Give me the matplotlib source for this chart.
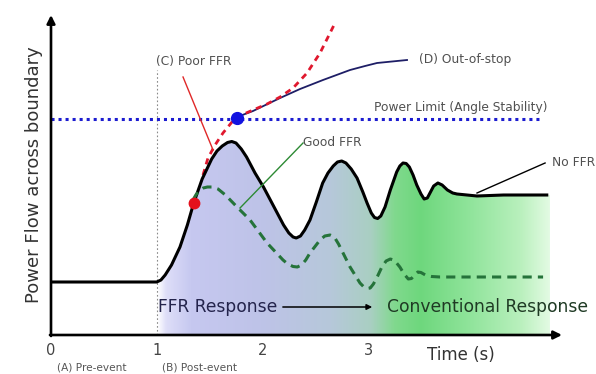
import matplotlib

matplotlib.use("Agg")
import matplotlib.pyplot as plt
import numpy as np
from matplotlib.colors import LinearSegmentedColormap
from matplotlib.patches import Polygon

# time in seconds, power in arbitrary units
no_ffr_t = [0.00, 1.00, 1.04, 1.08, 1.14, 1.22, 1.29, 1.35, 1.43, 1.52, 1.57, 1.62,
            1.67, 1.71, 1.75, 1.80, 1.85, 1.93, 2.01, 2.14, 2.20, 2.25, 2.29, 2.32,
            2.36, 2.40, 2.45, 2.51, 2.57, 2.62, 2.67, 2.71, 2.75, 2.79, 2.84, 2.895,
            2.95, 2.99, 3.03, 3.06, 3.09, 3.12, 3.16, 3.21, 3.27, 3.30, 3.33, 3.36,
            3.39, 3.425, 3.46, 3.50, 3.53, 3.56, 3.59, 3.62, 3.66, 3.70, 3.75, 3.80,
            3.84, 4.03, 4.28, 4.69]
no_ffr_p = [0.53, 0.53, 0.55, 0.60, 0.70, 0.88, 1.10, 1.32, 1.56, 1.76, 1.84, 1.89,
            1.925, 1.935, 1.92, 1.86, 1.78, 1.62, 1.48, 1.22, 1.10, 1.02, 0.98, 0.97,
            0.99, 1.05, 1.15, 1.33, 1.52, 1.62, 1.69, 1.73, 1.74, 1.72, 1.66, 1.57,
            1.43, 1.32, 1.22, 1.175, 1.165, 1.19, 1.28, 1.45, 1.63, 1.69, 1.72, 1.715,
            1.68, 1.60, 1.50, 1.41, 1.36, 1.37, 1.43, 1.49, 1.52, 1.50, 1.45, 1.42,
            1.41, 1.39, 1.40, 1.40]

good_ffr_t = [1.343, 1.37, 1.40, 1.44, 1.48, 1.53, 1.58, 1.65, 1.76, 1.883, 2.044,
              2.195, 2.24, 2.29, 2.33, 2.37, 2.41, 2.45, 2.545, 2.59, 2.64, 2.68,
              2.72, 2.829, 2.923, 2.96, 2.99, 3.02, 3.05, 3.09, 3.13, 3.17, 3.21,
              3.25, 3.30, 3.34, 3.38, 3.41, 3.44, 3.47, 3.50, 3.55, 3.60, 3.68, 4.655]
good_ffr_p = [1.35, 1.40, 1.44, 1.47, 1.48, 1.48, 1.46, 1.40, 1.28, 1.15, 0.92,
              0.75, 0.71, 0.685, 0.68, 0.70, 0.75, 0.82, 0.95, 0.99, 1.00, 0.98,
              0.91, 0.68, 0.52, 0.48, 0.465, 0.47, 0.51, 0.59, 0.68, 0.74, 0.76,
              0.745, 0.68, 0.61, 0.56, 0.565, 0.60, 0.63, 0.625, 0.595, 0.585, 0.58, 0.58]

poor_ffr_t = [1.438, 1.485, 1.552, 1.627, 1.712, 1.760, 1.911, 2.044, 2.167, 2.290,
              2.422, 2.545, 2.687]
poor_ffr_p = [1.60, 1.77, 1.90, 2.02, 2.13, 2.18, 2.25, 2.31, 2.38, 2.47,
              2.62, 2.82, 3.12]

out_of_step_t = [1.760, 1.911, 2.167, 2.356, 2.573, 2.829, 2.971, 3.084, 3.368]
out_of_step_p = [2.18, 2.24, 2.37, 2.46, 2.55, 2.65, 2.69, 2.72, 2.75]

power_limit = 2.16
event_time = 1.0
red_point = (1.35, 1.32)
blue_point = (1.76, 2.17)
time_ticks = [0, 1, 2, 3]

fig = plt.figure(figsize=(5.96, 3.74), dpi=100)
ax = fig.add_axes([51 / 596, 39 / 374, 511 / 596, 320 / 374])
x_max, y_max = 4.834, 3.20

# gradient shading under the no-FFR response
stops = [(1.00, "#ffffff"), (1.08, "#dedef8"), (1.32, "#c6c8f0"), (1.98, "#bec3e8"),
         (2.64, "#b6c8da"), (3.02, "#a9cfc2"), (3.25, "#80d98d"), (3.49, "#6ed77d"),
         (3.96, "#90e49b"), (4.44, "#b9f0bd"), (4.72, "#e4fbe4")]
t0, t1 = stops[0][0], stops[-1][0]
cmap = LinearSegmentedColormap.from_list(
    "resp", [((t - t0) / (t1 - t0), c) for t, c in stops])
grad = np.linspace(0, 1, 512).reshape(1, -1)
im = ax.imshow(grad, extent=[t0, t1, 0, 2.0], aspect="auto", cmap=cmap,
               origin="lower", zorder=1, interpolation="bilinear")
t_arr = np.array(no_ffr_t)
p_arr = np.array(no_ffr_p)
mask = t_arr >= event_time
verts = [(event_time, 0)] + list(zip(t_arr[mask], p_arr[mask])) + [(t1, p_arr[-1]), (t1, 0)]
clip = Polygon(verts, closed=True, facecolor="none", edgecolor="none", transform=ax.transData)
ax.add_patch(clip)
im.set_clip_path(clip)

# event marker and stability limit
ax.plot([event_time, event_time], [0, 2.65], color="#8a8a8a", lw=0.8, ls=(0, (1.5, 2)), zorder=2)
ax.plot([0, 4.645], [power_limit, power_limit], color="#1c1cd0", lw=2.2,
        ls=(0, (1, 1.3)), zorder=3)

# response curves
ax.plot(out_of_step_t, out_of_step_p, color="#1e1e66", lw=1.3, zorder=4)
ax.plot(poor_ffr_t, poor_ffr_p, color="#e0182e", lw=2.0, ls=(0, (2.2, 1.8)), zorder=5)
ax.plot(no_ffr_t, no_ffr_p, color="black", lw=2.2, solid_joinstyle="round", zorder=5)
ax.plot(good_ffr_t, good_ffr_p, color="#25733a", lw=2.2, ls=(0, (3, 2)), zorder=5)
ax.plot(*red_point, "o", color="#e4101c", ms=7.5, zorder=6)
ax.plot(*blue_point, "o", color="#1212e0", ms=8.5, zorder=6)

# annotations
small = dict(fontsize=8.8, color="#505050", va="center", zorder=7)
ax.text(1.348, 2.73, "(C) Poor FFR", ha="center", **small)
ax.plot([1.249, 1.533], [2.58, 1.85], color="#e02828", lw=1.0, zorder=6)
ax.text(3.922, 2.75, "(D) Out-of-stop", ha="center", **small)
ax.text(3.879, 2.27, "Power Limit (Angle Stability)", ha="center", **small)
ax.text(2.384, 1.92, "Good FFR", ha="left", **small)
ax.plot([2.384, 1.788], [1.92, 1.27], color="#2d8a34", lw=1.0, zorder=6)
ax.text(4.74, 1.72, "No FFR", ha="left", clip_on=False, **small)
ax.plot([4.674, 4.03], [1.72, 1.42], color="black", lw=1.0, zorder=6)

ax.text(1.012, 0.28, "FFR Response", fontsize=12.3, color="#24244c", va="center", zorder=7)
ax.annotate("", xy=(3.065, 0.28), xytext=(2.167, 0.28), zorder=7,
            arrowprops=dict(arrowstyle="-|>", lw=1.1, color="black", mutation_scale=8))
ax.text(3.179, 0.28, "Conventional Response", fontsize=12.3, color="#1f3a24",
        va="center", zorder=7)

# axes drawn as arrows
ax.annotate("", xy=(x_max, 0), xytext=(-0.01, 0), annotation_clip=False, zorder=8,
            arrowprops=dict(arrowstyle="-|>", lw=1.9, color="black", mutation_scale=12,
                            shrinkA=0, shrinkB=0))
ax.annotate("", xy=(0, y_max), xytext=(0, -0.01), annotation_clip=False, zorder=8,
            arrowprops=dict(arrowstyle="-|>", lw=1.9, color="black", mutation_scale=12,
                            shrinkA=0, shrinkB=0))
for side in ax.spines.values():
    side.set_visible(False)

ax.set_xlim(0, x_max)
ax.set_ylim(0, y_max)
ax.set_xticks(time_ticks)
ax.set_xticklabels([str(t) for t in time_ticks])
ax.set_yticks([])
ax.tick_params(axis="x", length=0, pad=6, labelsize=10.5, labelcolor="#444444")
ax.set_ylabel("Power Flow across boundary", fontsize=13, color="#333333", labelpad=6)
ax.text(3.88, -0.20, "Time (s)", fontsize=12, color="#333333", ha="center",
        va="center", clip_on=False)
ax.text(0.383, -0.32, "(A) Pre-event", fontsize=7.6, color="#555555", ha="center",
        va="center", clip_on=False)
ax.text(1.41, -0.32, "(B) Post-event", fontsize=7.6, color="#555555", ha="center",
        va="center", clip_on=False)

fig.savefig("out.png", dpi=100)
